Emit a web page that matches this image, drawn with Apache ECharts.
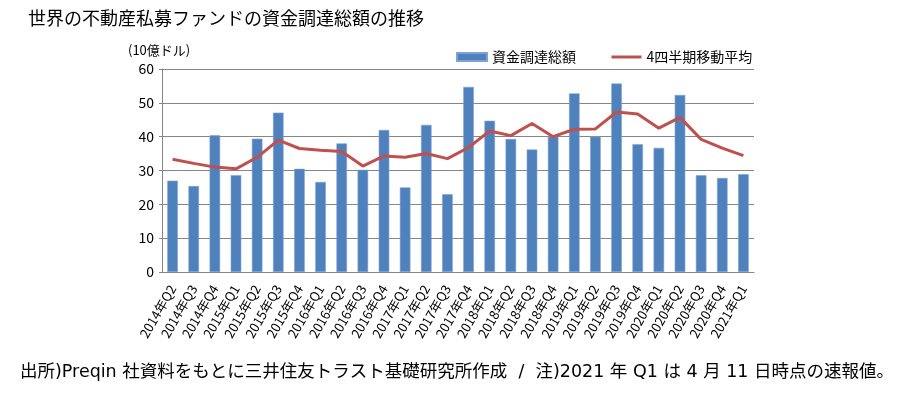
<!DOCTYPE html>
<html>
<head>
<meta charset="utf-8">
<script src="https://cdn.jsdelivr.net/npm/echarts@6/dist/echarts.min.js"></script>
<style>
  html, body { margin: 0; padding: 0; background: #fff; }
  #container { width: 900px; height: 396px; }
</style>
</head>
<body>
<div id="container"></div>
<script>
var categories = ['2014年Q2', '2014年Q3', '2014年Q4', '2015年Q1', '2015年Q2', '2015年Q3', '2015年Q4',
  '2016年Q1', '2016年Q2', '2016年Q3', '2016年Q4', '2017年Q1', '2017年Q2', '2017年Q3', '2017年Q4',
  '2018年Q1', '2018年Q2', '2018年Q3', '2018年Q4', '2019年Q1', '2019年Q2', '2019年Q3', '2019年Q4',
  '2020年Q1', '2020年Q2', '2020年Q3', '2020年Q4', '2021年Q1'];
// 資金調達総額 (10億ドル)
var totalRaised = [27.0, 25.4, 40.4, 28.6, 39.4, 47.1, 30.5, 26.6, 38.0, 30.2, 42.0, 25.0, 43.5, 23.0,
  54.7, 44.7, 39.3, 36.2, 40.0, 52.8, 40.0, 55.7, 37.8, 36.7, 52.3, 28.6, 27.8, 28.9];
// 4四半期移動平均
var movingAvg = [33.3, 32.1, 31.0, 30.5, 33.9, 39.0, 36.5, 36.0, 35.6, 31.3, 34.3, 33.9, 35.0, 33.5,
  36.8, 41.7, 40.3, 43.9, 40.0, 42.2, 42.3, 47.3, 46.7, 42.5, 45.7, 39.2, 36.6, 34.4];

var font = "'Noto Sans CJK JP', sans-serif";
var noteFont = "'DejaVu Sans', 'Noto Sans CJK JP', sans-serif";

var dom = document.getElementById('container');
var myChart = echarts.init(dom, null, { renderer: 'canvas' });

var option = {
  animation: false,
  textStyle: { fontFamily: font, color: '#000' },
  title: {
    text: '世界の不動産私募ファンドの資金調達総額の推移',
    left: 23,
    top: 4,
    textStyle: { fontSize: 18, fontWeight: 'normal', color: '#000', fontFamily: font }
  },
  graphic: [
    {
      type: 'text',
      left: 128,
      top: 44,
      style: { text: '(10億ドル)', fontSize: 13, fill: '#000', fontFamily: font }
    },
    {
      type: 'text',
      left: 20,
      top: 364,
      style: {
        text: '出所)Preqin 社資料をもとに三井住友トラスト基礎研究所作成  /  注)2021 年 Q1 は 4 月 11 日時点の速報値。',
        fontSize: 17.5, fill: '#000', fontFamily: noteFont
      }
    }
  ],
  legend: {
    left: 451,
    top: 45,
    itemWidth: 30,
    itemHeight: 8,
    itemGap: 34,
    textStyle: { fontSize: 14, color: '#000', fontFamily: font },
    data: [
      { name: '資金調達総額', icon: 'rect' },
      { name: '4四半期移動平均', itemStyle: { opacity: 0 }, lineStyle: { width: 3 } }
    ]
  },
  grid: { left: 162, right: 146, top: 69, bottom: 124 },
  xAxis: {
    type: 'category',
    data: categories,
    axisLine: { lineStyle: { color: '#868686' } },
    axisTick: { length: 4, lineStyle: { color: '#868686' } },
    axisLabel: { rotate: 60, fontSize: 13, color: '#000', margin: 14, interval: 0, fontFamily: font }
  },
  yAxis: {
    type: 'value',
    min: 0,
    max: 60,
    interval: 10,
    axisLine: { show: true, lineStyle: { color: '#868686' } },
    axisTick: { show: true, length: 3, lineStyle: { color: '#868686' } },
    axisLabel: { fontSize: 14, color: '#000', margin: 8, fontFamily: font },
    splitLine: { lineStyle: { color: '#868686' } }
  },
  series: [
    {
      name: '資金調達総額',
      type: 'bar',
      data: totalRaised,
      barWidth: '50%',
      itemStyle: { color: '#4F81BD', borderColor: '#7FA3D3', borderWidth: 0.6 }
    },
    {
      name: '4四半期移動平均',
      type: 'line',
      data: movingAvg,
      showSymbol: false,
      symbol: 'none',
      lineStyle: { color: '#C0504D', width: 3 },
      itemStyle: { color: '#C0504D' }
    }
  ]
};

myChart.setOption(option);
window.addEventListener('resize', myChart.resize);
</script>
</body>
</html>
